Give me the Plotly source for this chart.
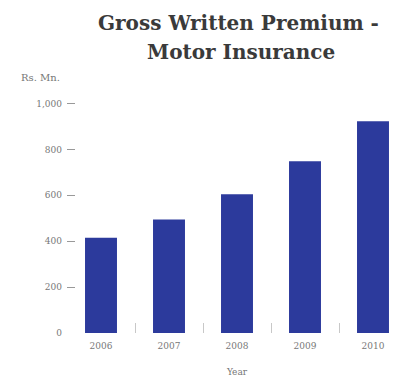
import plotly.graph_objects as go

years = ["2006", "2007", "2008", "2009", "2010"]
premium = [415, 495, 605, 748, 923]
y_ticks = [0, 200, 400, 600, 800, 1000]
y_tick_labels = ["0", "200", "400", "600", "800", "1,000"]
title_lines = ["Gross Written Premium -", "Motor Insurance"]

FONT = "DejaVu Serif"
PLOT_H = 243  # plot area height in px (381 - 92 - 46)


def py(px):
    return (335 - px) / PLOT_H


def px_x(px):
    return (px - 67) / 340


fig = go.Figure(go.Bar(
    x=years, y=premium,
    marker=dict(color="#2c3a9c", line=dict(width=0)),
    width=0.47,
))

annotations = [
    dict(text="<b>%s</b>" % title_lines[0], x=px_x(238), y=py(22),
         font=dict(family=FONT, size=20, color="#3a3a3a")),
    dict(text="<b>%s</b>" % title_lines[1], x=px_x(241), y=py(52),
         font=dict(family=FONT, size=20, color="#3a3a3a")),
    dict(text="Rs. Mn.", x=px_x(40), y=py(77),
         font=dict(family=FONT, size=10, color="#777777")),
]
for a in annotations:
    a.update(xref="paper", yref="paper", xanchor="center", yanchor="middle",
             showarrow=False)

fig.update_layout(
    width=413, height=381,
    margin=dict(l=67, r=6, t=92, b=46),
    paper_bgcolor="white", plot_bgcolor="white",
    showlegend=False,
    font=dict(family=FONT, size=9, color="#777777"),
    annotations=annotations,
)

fig.update_xaxes(
    type="category", tickson="boundaries", ticks="inside", ticklen=10,
    tickcolor="#c8c8c8", showgrid=False, showline=False, zeroline=False,
    ticklabelstandoff=6,
    title=dict(text="Year", font=dict(family=FONT, size=9, color="#777777"), standoff=18),
    tickfont=dict(family=FONT, size=9, color="#777777"),
)
fig.update_yaxes(
    range=[0, 1050], tickvals=y_ticks, ticktext=y_tick_labels,
    ticks="inside", ticklen=8, tickcolor="#999999",
    showgrid=False, showline=False, zeroline=False,
    ticklabelstandoff=4,
    tickfont=dict(family=FONT, size=9, color="#777777"),
)

fig.write_html("out.html", config={"displayModeBar": False},
               post_script="document.body.style.margin='0';")
